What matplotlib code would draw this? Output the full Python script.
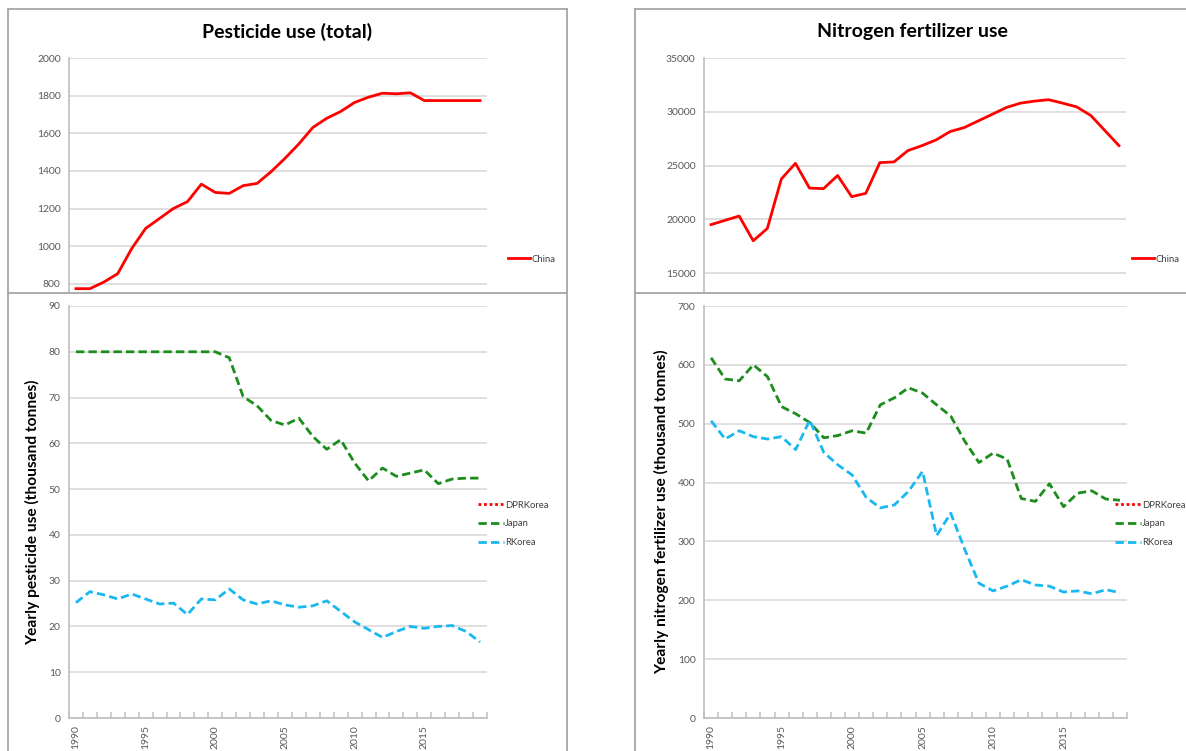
import numpy as np
import matplotlib.pyplot as plt
from matplotlib.lines import Line2D

plt.rcParams["font.family"] = ["Lato", "DejaVu Sans"]

# ── data ─────────────────────────────────────────────
years = list(range(1990, 2020))

china_pest = [775, 775, 810, 855, 988, 1095, 1148, 1201, 1237, 1330,
              1286, 1281, 1322, 1334, 1396, 1467, 1544, 1631, 1680, 1716,
              1764, 1792, 1813, 1810, 1815, 1774, 1774, 1774, 1774, 1774]

japan_pest = [80, 80, 80, 80, 80, 80, 80, 80, 80, 80,
              80, 78.7, 70.2, 68.2, 65.0, 64.0, 65.5, 61.5, 58.7, 60.8,
              55.7, 51.8, 54.6, 52.8, 53.5, 54.2, 51.2, 52.2, 52.4, 52.4]

rkorea_pest = [25.2, 27.6, 26.9, 26.0, 27.1, 26.0, 24.9, 25.1, 22.6, 26.0,
               25.8, 28.2, 25.8, 24.9, 25.6, 24.7, 24.2, 24.5, 25.6, 23.3,
               21.0, 19.3, 17.6, 18.9, 20.0, 19.6, 20.0, 20.2, 18.9, 16.6]

dprk_pest = []  # no values plotted

china_n = [19500, 19900, 20300, 18000, 19140, 23750, 25200, 22900, 22850, 24070,
           22100, 22410, 25270, 25330, 26390, 26850, 27380, 28160, 28530, 29150,
           29770, 30400, 30800, 30990, 31120, 30800, 30450, 29650, 28250, 26850]

japan_n = [612, 576, 573, 600, 580, 529, 517, 502, 476, 480,
           488, 484, 532, 544, 561, 552, 532, 513, 470, 434,
           450, 440, 373, 368, 398, 359, 382, 386, 372, 370]

rkorea_n = [505, 474, 488, 478, 474, 478, 456, 506, 451, 430,
            413, 375, 357, 362, 385, 419, 310, 348, 286, 229,
            216, 224, 235, 226, 224, 214, 216, 211, 218, 213]

dprk_n = []  # no values plotted

# ── styles ───────────────────────────────────────────
RED = "#ff0000"
GREEN = "#1c8c1c"
BLUE = "#1ab8f0"
GRID = "#d9d9d9"
SPINE = "#bfbfbf"
TXT = "#595959"
BOX = "#a6a6a6"

W, H = 1186, 751
fig = plt.figure(figsize=(W / 100, H / 100), dpi=100)


def rect(l, r, t, b):
    return [l / W, 1 - b / H, (r - l) / W, (b - t) / H]


x = np.arange(len(years))


def style_axes(ax, yticks, bottom_axis):
    ax.set_xlim(-0.5, len(years) - 0.5)
    ax.set_yticks(yticks)
    ax.yaxis.grid(True, color=GRID, linewidth=1.2)
    ax.set_axisbelow(True)
    for s in ["top", "right"]:
        ax.spines[s].set_visible(False)
    ax.spines["left"].set_color(SPINE)
    ax.spines["left"].set_linewidth(1.2)
    ax.tick_params(axis="y", length=0, labelsize=7.5, labelcolor=TXT, pad=6)
    if bottom_axis:
        ax.spines["bottom"].set_color(SPINE)
        ax.spines["bottom"].set_linewidth(1.2)
        lab = [i for i, yr in enumerate(years) if yr % 5 == 0]
        ax.set_xticks(lab)
        ax.set_xticklabels([str(years[i]) for i in lab], rotation=90)
        ax.set_xticks(np.arange(-0.5, len(years)), minor=True)
        ax.tick_params(axis="x", which="major", length=0, labelsize=7.5,
                       labelcolor=TXT, pad=5)
        ax.tick_params(axis="x", which="minor", direction="in", length=4,
                       color=SPINE, width=1.1)
    else:
        ax.spines["bottom"].set_visible(False)
        ax.set_xticks([])


leg_kw = dict(bbox_transform=fig.transFigure, frameon=False, fontsize=6.8,
              labelcolor="#404040", handletextpad=0.1, loc="center left")

# ── top left: China pesticide ───────────────────────
ax1 = fig.add_axes(rect(69, 487, 58, 293))
ax1.plot(x, china_pest, color=RED, lw=2.0)
ax1.set_ylim(752, 2000)
style_axes(ax1, range(800, 2001, 200), False)
ax1.legend(["China"], bbox_to_anchor=(499 / W, 1 - 259 / H), handlelength=2.4, **leg_kw)

# ── top right: China nitrogen ───────────────────────
ax2 = fig.add_axes(rect(704, 1126, 58, 293))
ax2.plot(x, china_n, color=RED, lw=2.0)
ax2.set_ylim(13140, 35000)
style_axes(ax2, range(15000, 35001, 5000), False)
ax2.legend(["China"], bbox_to_anchor=(1123 / W, 1 - 259 / H), handlelength=2.4, **leg_kw)


def bottom_panel(ax, dprk, japan, rkorea, ylim, yticks, ylabel, leg_x):
    ax.plot(x[:len(dprk)], dprk, color=RED, lw=2.0, ls=(0, (1, 1)), label="DPRKorea")
    ax.plot(x, japan, color=GREEN, lw=2.0, ls=(0, (3, 1.5)), label="Japan")
    ax.plot(x, rkorea, color=BLUE, lw=2.0, ls=(0, (3, 1.5)), label="RKorea")
    ax.set_ylim(*ylim)
    style_axes(ax, yticks, True)
    ax.set_ylabel(ylabel, fontsize=11.2, fontweight="bold", color="black", labelpad=6)
    ax.legend(bbox_to_anchor=(leg_x / W, 1 - 524 / H), handlelength=2.8,
              labelspacing=1.05, **leg_kw)


ax3 = fig.add_axes(rect(69, 487, 306, 718))
bottom_panel(ax3, dprk_pest, japan_pest, rkorea_pest, (0, 90), range(0, 91, 10),
             "Yearly pesticide use (thousand tonnes)", 469)

ax4 = fig.add_axes(rect(704, 1127, 306, 718))
bottom_panel(ax4, dprk_n, japan_n, rkorea_n, (0, 700), range(0, 701, 100),
             "Yearly nitrogen fertilizer use (thousand tonnes)", 1106)

# ── titles ───────────────────────────────────────────
fig.text(287 / W, 1 - 32 / H, "Pesticide use (total)", ha="center", va="center",
         fontsize=14, fontweight="bold")
fig.text(912 / W, 1 - 32 / H, "Nitrogen fertilizer use", ha="center", va="center",
         fontsize=14, fontweight="bold")


# ── chart frames ─────────────────────────────────────
def frame(l, r, t, b):
    kw = dict(color=BOX, lw=1.3, transform=fig.transFigure, clip_on=False)
    fig.add_artist(Line2D([l / W, r / W], [1 - t / H] * 2, **kw))
    fig.add_artist(Line2D([l / W] * 2, [1 - t / H, 1 - b / H], **kw))
    fig.add_artist(Line2D([r / W] * 2, [1 - t / H, 1 - b / H], **kw))


frame(8, 567, 9, 760)
frame(635, 1200, 9, 760)
sep = dict(color=BOX, lw=1.3, transform=fig.transFigure)
fig.add_artist(Line2D([8 / W, 567 / W], [1 - 293 / H] * 2, **sep))
fig.add_artist(Line2D([635 / W, 1.0], [1 - 293 / H] * 2, **sep))

fig.savefig("out.png", dpi=100)
